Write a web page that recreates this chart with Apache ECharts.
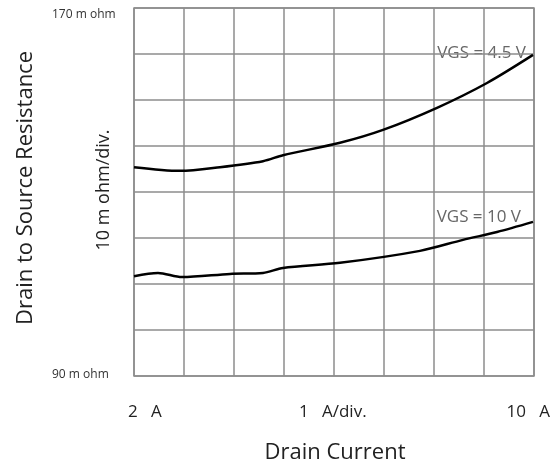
<!DOCTYPE html>
<html>
<head>
<meta charset="utf-8">
<script src="https://cdn.jsdelivr.net/npm/echarts@6/dist/echarts.min.js"></script>
<style>html,body{margin:0;padding:0;background:#fff;}#c{width:560px;height:468px;}</style>
</head>
<body>
<div id="c"></div>
<script>
// Drain current (A) and resistance (m ohm)
var current45 = [2.0, 2.92, 3.72, 4.58, 4.98, 6.12, 6.98, 8.06, 9.06, 9.98];
var rds45     = [135.4, 134.6, 135.4, 136.7, 138.0, 140.7, 143.5, 148.3, 153.7, 159.8];
var current10 = [2.0, 2.48, 2.96, 3.92, 4.58, 4.98, 6.12, 7.72, 8.58, 9.26, 9.98];
var rds10     = [111.7, 112.4, 111.5, 112.2, 112.4, 113.5, 114.6, 117.2, 119.6, 121.3, 123.5];
var seriesNames = ['VGS = 4.5 V', 'VGS = 10 V'];
var xTickLabels = ['2   A', '1   A/div.', '10   A'];
var yTickLabels = ['170 m ohm', '90 m ohm'];

function pairs(xs, ys){ return xs.map(function(x,i){ return [x, ys[i]]; }); }

var chart = echarts.init(document.getElementById('c'));
var font = '"Open Sans", "Noto Sans", sans-serif';
var gridColor = '#8c8c8c';
chart.setOption({
  animation: false,
  backgroundColor: '#fff',
  grid: {left: 134, top: 8, width: 400, height: 368, show: true, borderColor: gridColor, borderWidth: 1.5},
  xAxis: {type: 'value', min: 2, max: 10, interval: 1,
    axisLine: {show: false}, axisTick: {show: false}, axisLabel: {show: false},
    splitLine: {show: true, lineStyle: {color: gridColor, width: 1.5}}},
  yAxis: {type: 'value', min: 90, max: 170, interval: 10,
    axisLine: {show: false}, axisTick: {show: false}, axisLabel: {show: false},
    splitLine: {show: true, lineStyle: {color: gridColor, width: 1.5}}},
  series: [
    {name: seriesNames[0], type: 'line', data: pairs(current45, rds45), smooth: 0.3, symbol: 'none',
     lineStyle: {color: '#000', width: 2.5}},
    {name: seriesNames[1], type: 'line', data: pairs(current10, rds10), smooth: 0.3, symbol: 'none',
     lineStyle: {color: '#000', width: 2.5}}
  ],
  graphic: [
    {type: 'text', x: 52, y: 15, style: {text: yTickLabels[0], font: '12px ' + font, fill: '#333', verticalAlign: 'middle'}},
    {type: 'text', x: 52, y: 375, style: {text: yTickLabels[1], font: '12px ' + font, fill: '#333', verticalAlign: 'middle'}},
    {type: 'text', x: 128, y: 412, style: {text: xTickLabels[0], font: '17px ' + font, fill: '#222', verticalAlign: 'middle'}},
    {type: 'text', x: 299, y: 412, style: {text: xTickLabels[1], font: '17px ' + font, fill: '#222', verticalAlign: 'middle'}},
    {type: 'text', x: 550, y: 412, style: {text: xTickLabels[2], font: '17px ' + font, fill: '#222', align: 'right', verticalAlign: 'middle'}},
    {type: 'text', x: 335, y: 453, style: {text: 'Drain Current', font: '22px ' + font, fill: '#222', align: 'center', verticalAlign: 'middle'}},
    {type: 'text', x: 26, y: 188, rotation: Math.PI/2, style: {text: 'Drain to Source Resistance', font: '22px ' + font, fill: '#222', align: 'center', verticalAlign: 'middle'}},
    {type: 'text', x: 104, y: 190, rotation: Math.PI/2, style: {text: '10 m ohm/div.', font: '18px ' + font, fill: '#222', align: 'center', verticalAlign: 'middle'}},
    {type: 'text', x: 526, y: 53, style: {text: seriesNames[0], font: '17px ' + font, fill: '#666', align: 'right', verticalAlign: 'middle'}},
    {type: 'text', x: 521, y: 217, style: {text: seriesNames[1], font: '17px ' + font, fill: '#666', align: 'right', verticalAlign: 'middle'}}
  ]
});
</script>
</body>
</html>
